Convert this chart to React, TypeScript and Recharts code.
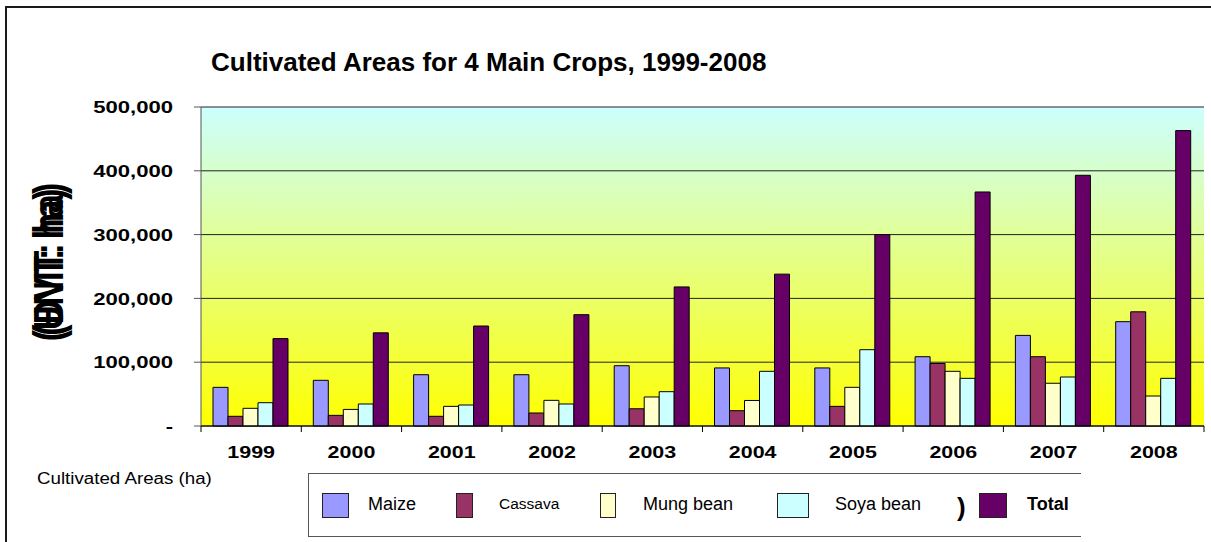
import React from "react";
import {
  BarChart,
  Bar,
  XAxis,
  YAxis,
  CartesianGrid,
} from "recharts";

const years = ["1999", "2000", "2001", "2002", "2003", "2004", "2005", "2006", "2007", "2008"];
const maize = [60600, 71600, 80400, 80400, 94500, 91000, 91000, 108600, 142000, 163500];
const cassava = [15200, 16700, 15200, 20400, 27000, 24000, 30800, 98000, 108600, 179000];
const mungBean = [27700, 26000, 30800, 40200, 45500, 40000, 60600, 85700, 67000, 47000];
const soyaBean = [36500, 34500, 32900, 34500, 53800, 85700, 119600, 74700, 76800, 74700];
const total = [137000, 146000, 156700, 174500, 218000, 238000, 300000, 366800, 393000, 463000];
const yTicks = [0, 100000, 200000, 300000, 400000, 500000];

const series = [
  { key: "maize", name: "Maize", color: "#9999FF" },
  { key: "cassava", name: "Cassava", color: "#993366" },
  { key: "mungBean", name: "Mung bean", color: "#FFFFCC" },
  { key: "soyaBean", name: "Soya bean", color: "#CCFFFF" },
  { key: "total", name: "Total", color: "#660066" },
];

const data = years.map((year, i) => ({
  year,
  maize: maize[i],
  cassava: cassava[i],
  mungBean: mungBean[i],
  soyaBean: soyaBean[i],
  total: total[i],
}));

const FONT = "'Liberation Sans', Arial, sans-serif";
const STRETCH = 1.3;

// legend placement (swatch left, swatch width, label left, label size, bold)
const legendLayout = [
  { sx: 322, sw: 27, tx: 368, fs: 18, bold: false },
  { sx: 456, sw: 17, tx: 499, fs: 15.5, bold: false },
  { sx: 600, sw: 16, tx: 643, fs: 18, bold: false },
  { sx: 777, sw: 32, tx: 835, fs: 18, bold: false },
  { sx: 979, sw: 28, tx: 1027, fs: 18, bold: true },
];

const fmt = (v: number) => (v === 0 ? "-" : v.toLocaleString("en-US"));

function YTick(props: any) {
  const { x, y, payload } = props;
  return (
    <text
      transform={`translate(${x},${y}) scale(${STRETCH},1)`}
      textAnchor="end"
      dy="0.36em"
      fontFamily={FONT}
      fontWeight="bold"
      fontSize={17}
      fill="#000"
    >
      {fmt(payload.value)}
    </text>
  );
}

function XTick(props: any) {
  const { x, y, payload, index, visibleTicksCount } = props;
  const half = payload.offset || 50;
  const axisY = y - 6;
  return (
    <g>
      <line x1={x - half} x2={x - half} y1={axisY} y2={axisY + 6} stroke="#000" />
      {index === visibleTicksCount - 1 && (
        <line x1={x + half} x2={x + half} y1={axisY} y2={axisY + 6} stroke="#000" />
      )}
      <text
        transform={`translate(${x},${axisY + 32}) scale(${STRETCH},1)`}
        textAnchor="middle"
        fontFamily={FONT}
        fontWeight="bold"
        fontSize={16.5}
        fill="#000"
      >
        {payload.value}
      </text>
    </g>
  );
}

const textStyle = (size: number, bold = false, stretch = 1): React.CSSProperties => ({
  position: "absolute",
  fontFamily: FONT,
  fontSize: size,
  fontWeight: bold ? "bold" : "normal",
  transform: `scaleX(${stretch})`,
  transformOrigin: "left center",
  whiteSpace: "nowrap",
  lineHeight: 1,
  color: "#000",
});

export default function App() {
  return (
    <div
      style={{
        position: "fixed",
        left: 0,
        top: 0,
        width: 1211,
        height: 542,
        overflow: "hidden",
        background: "#fff",
      }}
    >
      <div
        style={{
          position: "absolute",
          left: 5,
          top: 6,
          width: 1400,
          height: 800,
          border: "2px solid #1a1a1a",
        }}
      />

      <div style={{ ...textStyle(26, true), left: 211, top: 49 }}>
        Cultivated Areas for 4 Main Crops, 1999-2008
      </div>

      {["(UNIT: ha)", "(ĐVT: ha)"].map((t) => (
        <div
          key={t}
          style={{
            position: "absolute",
            left: 48,
            top: 262,
            fontFamily: FONT,
            fontWeight: "bold",
            fontSize: 34,
            whiteSpace: "nowrap",
            lineHeight: 1,
            transform: "translate(-50%, -50%) rotate(-90deg) scaleY(1.25)",
          }}
        >
          {t}
        </div>
      ))}

      <div style={{ position: "absolute", left: 0, top: 0 }}>
        <BarChart
          width={1211}
          height={542}
          data={data}
          margin={{ top: 107, right: 7, bottom: 86, left: 121 }}
          barCategoryGap={12}
          barGap={0}
        >
          <defs>
            <linearGradient id="plotBg" x1="0" y1="0" x2="0" y2="1">
              <stop offset="0%" stopColor="#CCFFFF" />
              <stop offset="100%" stopColor="#FFFF00" />
            </linearGradient>
          </defs>
          <CartesianGrid
            vertical={false}
            stroke="#222"
            fill="url(#plotBg)"
            fillOpacity={1}
          />
          <XAxis
            dataKey="year"
            height={30}
            interval={0}
            tickLine={false}
            tickSize={6}
            tickMargin={0}
            axisLine={{ stroke: "#000" }}
            tick={<XTick />}
          />
          <YAxis
            width={80}
            domain={[0, 500000]}
            ticks={yTicks}
            tickSize={7}
            tickMargin={21}
            tickLine={{ stroke: "#555" }}
            axisLine={{ stroke: "#555" }}
            tick={<YTick />}
          />
          <YAxis
            yAxisId="right"
            orientation="right"
            width={0}
            domain={[0, 500000]}
            tick={false}
            tickLine={false}
            axisLine={{ stroke: "#888" }}
          />
          {series.map((s) => (
            <Bar
              key={s.key}
              dataKey={s.key}
              name={s.name}
              fill={s.color}
              stroke="#000"
              strokeWidth={1}
              isAnimationActive={false}
            />
          ))}
        </BarChart>
      </div>

      <div style={{ ...textStyle(16, false, 1.17), left: 37, top: 471 }}>Cultivated Areas (ha)</div>

      <div
        style={{
          position: "absolute",
          left: 308,
          top: 473,
          width: 772,
          height: 62,
          borderTop: "1px solid #555",
          borderLeft: "1px solid #555",
          borderBottom: "1px solid #555",
        }}
      />
      {series.map((s, i) => {
        const l = legendLayout[i];
        return (
          <React.Fragment key={s.key}>
            <div
              style={{
                position: "absolute",
                left: l.sx,
                top: 493,
                width: l.sw,
                height: 25,
                boxSizing: "border-box",
                background: s.color,
                border: "1px solid #222",
              }}
            />
            <div style={{ ...textStyle(l.fs, l.bold), left: l.tx, top: 504 - l.fs / 2 }}>
              {s.name}
            </div>
          </React.Fragment>
        );
      })}
      <div style={{ ...textStyle(26, true), left: 957, top: 494 }}>)</div>
    </div>
  );
}
